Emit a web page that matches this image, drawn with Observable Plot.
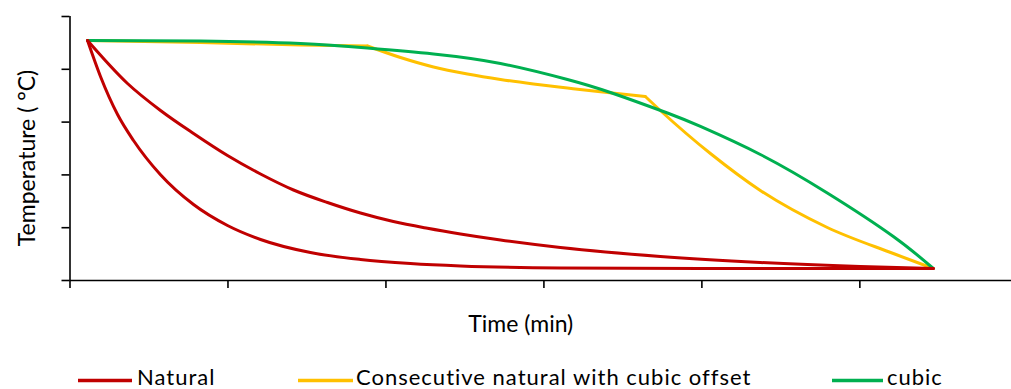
<!DOCTYPE html>
<html><head><meta charset="utf-8">
<script src="https://cdn.jsdelivr.net/npm/d3@7"></script>
<script src="https://cdn.jsdelivr.net/npm/@observablehq/plot@0.6"></script>
<style>body{margin:0;background:#fff;} svg{display:block;}</style>
</head><body><div id="chart"></div><script>
const xTicks = [0, 1, 2, 3, 4, 5];
const yTicks = [0, 1, 2, 3, 4, 5];

const naturalFastTime = [0.111, 0.193, 0.301, 0.402, 0.573, 0.782, 0.997, 1.206, 1.522, 1.839, 2.155, 2.472, 3.104, 3.991, 5.465];
const naturalFastTemp = [4.545, 3.864, 3.144, 2.652, 2.003, 1.439, 1.042, 0.777, 0.530, 0.398, 0.322, 0.275, 0.237, 0.227, 0.227];

const naturalSlowTime = [0.111, 0.364, 0.573, 0.782, 0.997, 1.206, 1.415, 1.630, 1.839, 2.047, 2.263, 2.472, 2.725, 3.104, 3.737, 4.370, 5.003, 5.465];
const naturalSlowTemp = [4.545, 3.731, 3.220, 2.784, 2.367, 2.017, 1.714, 1.477, 1.278, 1.117, 0.989, 0.881, 0.767, 0.625, 0.455, 0.341, 0.265, 0.227];

// consecutive natural with cubic offset: three pieces joined at kinks
const offsetPiece = [1, 1, 1, 1, 2, 2, 2, 2, 2, 2, 2, 2, 2, 3, 3, 3, 3, 3, 3, 3];
const offsetTime = [0.111, 0.826, 1.459, 1.883, 1.883, 2.092, 2.301, 2.516, 2.725, 2.934, 3.149, 3.358, 3.642, 3.642, 3.737, 4.054, 4.370, 4.794, 5.212, 5.465];
const offsetTemp = [4.545, 4.508, 4.460, 4.441, 4.441, 4.223, 4.044, 3.911, 3.807, 3.722, 3.646, 3.574, 3.485, 3.485, 3.220, 2.405, 1.705, 1.004, 0.511, 0.227];

const cubicTime = [0.111, 0.826, 1.459, 1.883, 2.301, 2.725, 3.149, 3.421, 3.782, 3.991, 4.370, 4.794, 5.212, 5.465];
const cubicTemp = [4.545, 4.536, 4.489, 4.403, 4.290, 4.110, 3.807, 3.561, 3.172, 2.917, 2.386, 1.657, 0.833, 0.227];

const seriesNames = ["Natural", "Consecutive natural with cubic offset", "cubic"];
const seriesColors = ["#C00000", "#FFC000", "#00B050"];
const xTitle = "Time (min)";
const yTitle = "Temperature ( °C)";

const rows = (xs, ys, s, z) => xs.map((x, i) => ({time: x, temp: ys[i], series: s, piece: z ? z[i] : 1}));
const dataFast = rows(naturalFastTime, naturalFastTemp, seriesNames[0]);
const dataSlow = rows(naturalSlowTime, naturalSlowTemp, seriesNames[0]);
const dataOffset = rows(offsetTime, offsetTemp, seriesNames[1], offsetPiece);
const dataCubic = rows(cubicTime, cubicTemp, seriesNames[2]);

const lineOpts = (c, curve = "monotone-x") => ({x: "time", y: "temp", z: "piece", stroke: c, strokeWidth: 3, curve, strokeLinejoin: "round", strokeLinecap: "round"});

const chart = Plot.plot({
  width: 1011, height: 350,
  marginTop: 16, marginBottom: 70, marginLeft: 69.5, marginRight: 0,
  x: {domain: [0, 5.96]},
  y: {domain: [0, 5]},
  style: {fontFamily: "Lato", background: "white", color: "#000"},
  marks: [
    Plot.line(dataOffset, lineOpts(seriesColors[1])),
    Plot.line(dataCubic, lineOpts(seriesColors[2], "natural")),
    Plot.line(dataSlow, lineOpts(seriesColors[0])),
    Plot.line(dataFast, lineOpts(seriesColors[0])),
    Plot.ruleY([0], {stroke: "#000", strokeWidth: 1.6}),
    Plot.ruleX([0], {stroke: "#000", strokeWidth: 1.6}),
    Plot.axisX(xTicks, {tickSize: 8, tickFormat: () => "", label: null, stroke: "#000", strokeWidth: 1.6}),
    Plot.axisY(yTicks, {tickSize: 8, tickFormat: () => "", label: null, stroke: "#000", strokeWidth: 1.6}),
    Plot.text([xTitle], {frameAnchor: "bottom", dx: -20, dy: 44.5, fontSize: 23, fill: "#000", lineAnchor: "middle", textAnchor: "middle"}),
    Plot.text([yTitle], {frameAnchor: "left", dx: -42, dy: 9.5, rotate: -90, fontSize: 23, fill: "#000", lineAnchor: "middle", textAnchor: "middle"})
  ]
});
document.getElementById("chart").appendChild(chart);

// Legend below the chart
const legendItems = [
  {name: seriesNames[0], color: seriesColors[0], x1: 78, x2: 132, tx: 137},
  {name: seriesNames[1], color: seriesColors[1], x1: 298, x2: 353, tx: 356},
  {name: seriesNames[2], color: seriesColors[2], x1: 832, x2: 883, tx: 887}
];
const leg = d3.select("#chart").append("svg").attr("width", 1011).attr("height", 39)
  .style("font-family", "Lato").style("background", "white");
const g = leg.selectAll("g").data(legendItems).join("g");
g.append("line").attr("x1", d => d.x1).attr("x2", d => d.x2).attr("y1", 30.5).attr("y2", 30.5)
  .attr("stroke", d => d.color).attr("stroke-width", 3.5);
g.append("text").attr("x", d => d.tx).attr("y", 35).attr("font-size", 22).attr("letter-spacing", "1px")
  .attr("fill", "#000").text(d => d.name);
</script></body></html>
